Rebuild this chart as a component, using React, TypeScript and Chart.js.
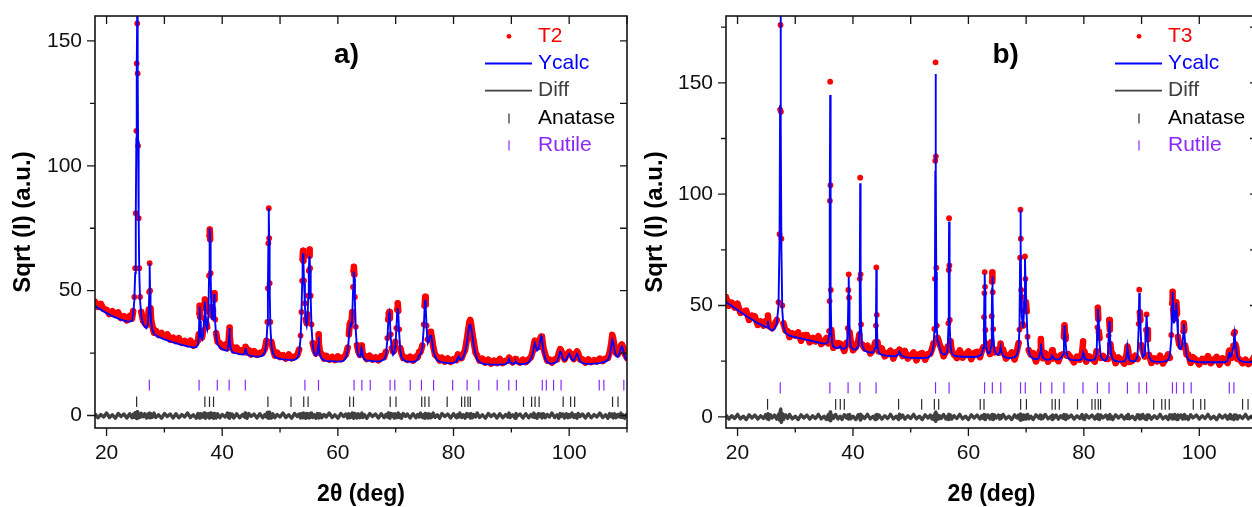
import { useEffect, useRef } from 'react';
import { Chart, registerables } from 'chart.js';

Chart.register(...registerables);

const FONT = "'Liberation Sans', Arial, Helvetica, sans-serif";

// ---- tick positions ----
const xMajorTicks = [20, 40, 60, 80, 100];
const xMinorTicks = [30, 50, 70, 90, 110];
const yMajorTicks = [0, 50, 100, 150];
const yMinorTicksA = [25, 75, 125];
const yMinorTicksB = [25, 75, 125, 175];

// ---- reflection markers (2θ) ----
const anataseTicks = [25.2, 37.0, 37.8, 38.5, 47.9, 51.9, 54.1, 54.85, 62.05, 62.7, 69.05, 70.05, 74.5, 75.05, 75.75, 78.9, 81.4, 81.95, 82.5, 82.9, 92.1, 93.5, 94.1, 94.8, 98.96, 100.25, 100.95, 107.5, 108.45];
const rutileTicks = [27.4, 36.0, 39.15, 41.2, 44.0, 54.3, 56.65, 62.8, 64.15, 65.6, 69.03, 69.85, 72.52, 74.45, 76.55, 79.85, 82.35, 84.37, 87.55, 89.56, 90.87, 95.35, 96.05, 97.3, 98.6, 105.2, 106.0, 109.45];

// ---- profiles: [2θ, observed, calculated, difference] ----
type Row = [number, number, number, number];

const t2Rows: Row[] = [
  [18.0, 45.6, 43.8, 0.7], [18.5, 43.5, 43.1, -0.9], [19.0, 44.7, 42.4, 0.4], [19.5, 42.6, 41.7, -0.6],
  [20.0, 42.4, 41.0, 1.0], [20.5, 40.6, 40.4, -0.8], [21.0, 41.8, 39.8, 0.3], [21.5, 40.4, 39.3, -1.1],
  [22.0, 41.3, 38.8, 0.8], [22.5, 39.0, 38.4, -0.4], [23.0, 39.8, 38.0, 0.6], [23.5, 38.1, 37.7, -1.0],
  [24.0, 39.9, 37.6, 0.7], [24.4, 38.8, 37.9, -0.9], [24.6, 41.8, 40.5, 0.5], [24.8, 47.5, 46.0, -0.7],
  [24.95, 59, 57, 1.1], [25.05, 81, 79, -0.8], [25.15, 114, 111, 0.9], [25.22, 141, 140, -1.2],
  [25.3, 157, 162, 1.5], [25.38, 137, 138, -1.0], [25.45, 108, 110, 0.8], [25.55, 79, 80, -0.9],
  [25.65, 59, 58, 0.6], [25.8, 47.5, 46, -0.7], [26.0, 41.5, 40, 0.9], [26.3, 38.0, 36.8, -0.5],
  [26.6, 37.0, 35.5, 0.7], [26.9, 36.2, 35.0, -1.0], [27.15, 38.5, 37.0, 0.5], [27.3, 42.5, 41.5, -0.8],
  [27.37, 49.5, 48.0, 0.9], [27.45, 61.0, 61.0, -0.6], [27.53, 50.0, 49.0, 0.8], [27.6, 43.0, 42.0, -0.9],
  [27.7, 38.5, 37.5, 0.4], [27.9, 36.0, 34.5, -0.7], [28.2, 33.2, 32.8, 1.0], [28.5, 34.0, 32.1, -0.8],
  [29.0, 32.2, 31.5, 0.3], [29.5, 33.1, 31.0, -1.1], [30.0, 31.6, 30.5, 0.8], [30.5, 32.5, 30.1, -0.4],
  [31.0, 30.4, 29.7, 0.6], [31.5, 31.2, 29.3, -1.0], [32.0, 29.8, 29.0, 0.7], [32.5, 31.0, 28.6, -0.9],
  [33.0, 29.1, 28.3, 0.4], [33.5, 29.9, 28.0, -0.6], [34.0, 28.6, 27.7, 1.0], [34.5, 30.0, 27.5, -0.8],
  [35.0, 28.0, 27.3, 0.3], [35.5, 28.9, 27.4, -1.1], [35.8, 30.0, 28.5, 0.8], [35.95, 32.5, 31.5, -0.4],
  [36.05, 41.0, 40.0, 0.6], [36.1, 44.0, 43.6, -1.0], [36.17, 39.5, 38.0, 0.7], [36.3, 33.0, 31.5, -0.9],
  [36.5, 31.2, 30.5, 0.4], [36.7, 34.0, 32.5, -0.6], [36.85, 39.0, 38.0, 1.0], [36.95, 45.0, 44.0, -0.8],
  [37.0, 46.5, 45.6, 0.3], [37.08, 43.0, 42.0, -1.1], [37.2, 37.5, 36.0, 0.8], [37.4, 35.5, 34.5, -0.4],
  [37.6, 41.5, 40.0, 0.6], [37.72, 56.0, 55.0, -1.0], [37.8, 72.0, 71.0, 0.9], [37.85, 74.5, 75.0, -0.9],
  [37.92, 70.5, 70.0, 0.5], [38.0, 57.0, 56.0, -0.6], [38.12, 43.5, 42.0, 1.0], [38.25, 40.0, 38.5, -0.8],
  [38.4, 42.5, 41.0, 0.3], [38.52, 47.5, 46.0, -1.1], [38.6, 49.0, 48.7, 0.8], [38.68, 46.5, 45.5, -0.4],
  [38.8, 38.5, 37.0, 0.6], [38.95, 33.0, 31.5, -1.0], [39.2, 29.5, 28.5, 0.7], [39.6, 29.0, 27.2, -0.9],
  [40.0, 27.4, 26.6, 0.4], [40.5, 28.4, 26.1, -0.6], [40.9, 27.0, 26.0, 1.0], [41.1, 29.6, 28.5, -0.8],
  [41.2, 33.5, 32.5, 0.3], [41.25, 35.2, 35.0, -1.1], [41.32, 32.0, 31.0, 0.8], [41.45, 28.4, 27.2, -0.4],
  [41.7, 27.6, 25.6, 0.6], [42.0, 26.0, 25.2, -1.0], [42.5, 27.2, 24.9, 0.7], [43.0, 25.5, 24.6, -0.9],
  [43.5, 26.3, 24.4, 0.4], [43.85, 25.4, 24.7, -0.6], [43.97, 26.9, 25.8, 1.0], [44.05, 27.5, 27.0, -0.8],
  [44.13, 27.0, 25.9, 0.3], [44.3, 25.3, 24.5, -1.1], [44.6, 26.2, 24.1, 0.8], [45.0, 24.5, 23.9, -0.4],
  [45.5, 25.8, 23.7, 0.6], [46.0, 24.3, 23.6, -1.0], [46.5, 25.1, 23.6, 0.7], [47.0, 25.0, 24.0, -0.9],
  [47.4, 26.8, 25.5, 0.4], [47.65, 30.0, 29.0, -0.6], [47.8, 37.5, 36.0, 1.2], [47.9, 51.0, 50.0, -0.8],
  [47.98, 69.0, 68.0, 0.9], [48.05, 83.0, 83.0, -1.1], [48.12, 71.0, 70.0, 1.3], [48.2, 53.0, 52.0, -0.4],
  [48.32, 37.5, 36.0, 0.6], [48.5, 29.5, 28.5, -1.0], [48.75, 26.8, 25.2, 0.7], [49.1, 24.0, 23.5, -0.9],
  [49.5, 25.2, 23.0, 0.4], [50.0, 23.4, 22.7, -0.6], [50.5, 24.2, 22.5, 1.0], [51.0, 22.8, 22.4, -0.8],
  [51.5, 24.5, 22.3, 0.3], [52.0, 22.9, 22.2, -1.1], [52.5, 23.6, 22.3, 0.8], [53.0, 24.2, 23.0, -0.4],
  [53.3, 26.4, 25.0, 0.6], [53.55, 32.0, 31.0, -1.0], [53.7, 41.5, 40.0, 0.7], [53.82, 54.0, 53.0, -0.9],
  [53.9, 62.5, 61.0, 0.4], [53.97, 66.0, 65.0, -0.6], [54.05, 62.0, 61.0, 1.0], [54.15, 54.0, 53.0, -0.8],
  [54.3, 45.0, 44.0, 0.3], [54.45, 38.5, 37.5, -1.1], [54.6, 37.0, 36.0, 0.8], [54.75, 40.5, 39.0, -0.4],
  [54.87, 48.0, 47.0, 0.6], [54.97, 58.0, 57.0, -1.0], [55.05, 64.0, 63.0, 0.7], [55.12, 66.5, 64.0, -0.9],
  [55.2, 59.0, 58.0, 0.4], [55.3, 48.0, 47.0, -0.6], [55.45, 36.5, 35.0, 1.0], [55.65, 29.0, 28.0, -0.8],
  [55.9, 26.5, 25.0, 0.3], [56.2, 24.8, 24.0, -1.1], [56.45, 26.0, 24.8, 0.8], [56.57, 29.0, 28.0, -0.4],
  [56.65, 32.5, 31.5, 0.6], [56.73, 29.5, 28.0, -1.0], [56.9, 25.4, 24.2, 0.7], [57.2, 24.6, 22.8, -0.9],
  [57.6, 22.8, 22.2, 0.4], [58.0, 23.9, 21.9, -0.6], [58.5, 22.4, 21.8, 1.0], [59.0, 23.5, 21.7, -0.8],
  [59.5, 22.2, 21.7, 0.3], [60.0, 23.7, 21.6, -1.1], [60.5, 22.5, 21.7, 0.8], [61.0, 23.4, 22.0, -0.4],
  [61.4, 24.4, 23.2, 0.6], [61.7, 27.2, 26.0, -1.0], [61.9, 32.5, 31.0, 0.7], [62.05, 36.5, 35.0, -0.9],
  [62.2, 37.5, 36.5, 0.4], [62.35, 37.5, 36.0, -0.6], [62.5, 41.5, 40.0, 1.0], [62.62, 51.5, 50.0, -0.8],
  [62.7, 58.0, 56.0, 0.3], [62.77, 59.6, 57.6, -1.1], [62.85, 56.5, 55.0, 0.8], [62.95, 47.5, 46.0, -0.4],
  [63.1, 35.5, 34.0, 0.6], [63.3, 28.2, 27.0, -1.0], [63.55, 25.6, 24.0, 0.7], [63.8, 24.3, 23.5, -0.9],
  [63.95, 25.8, 24.5, 0.4], [64.08, 28.0, 27.0, -0.6], [64.15, 27.5, 26.5, 1.0], [64.3, 24.6, 23.8, -0.8],
  [64.6, 24.0, 22.5, 0.3], [65.0, 22.6, 22.0, -1.1], [65.5, 24.0, 22.0, 0.8], [66.0, 22.4, 21.8, -0.4],
  [66.5, 23.3, 21.7, 0.6], [67.0, 22.1, 21.7, -1.0], [67.5, 23.8, 21.9, 0.7], [68.0, 23.4, 22.5, -0.9],
  [68.3, 25.5, 24.0, 0.4], [68.55, 31.0, 30.0, -0.6], [68.7, 38.5, 37.0, 1.0], [68.8, 41.0, 40.0, -0.8],
  [68.9, 41.5, 41.0, 0.3], [69.0, 39.0, 38.0, -1.1], [69.15, 32.5, 31.0, 0.8], [69.35, 27.0, 26.0, -0.4],
  [69.55, 25.6, 24.3, 0.6], [69.75, 26.0, 25.0, -1.0], [69.95, 29.5, 28.0, 0.7], [70.1, 35.0, 34.0, -0.9],
  [70.25, 42.5, 41.0, 0.4], [70.35, 45.0, 43.0, -0.6], [70.45, 42.0, 41.0, 1.0], [70.6, 34.5, 33.0, -0.8],
  [70.8, 27.0, 26.0, 0.3], [71.0, 25.0, 23.5, -1.1], [71.3, 23.0, 22.3, 0.8], [71.7, 23.2, 21.8, -0.4],
  [72.0, 22.3, 21.6, 0.6], [72.5, 23.6, 21.6, -1.0], [73.0, 22.0, 21.5, 0.7], [73.5, 23.6, 21.8, -0.9],
  [73.8, 23.3, 22.5, 0.4], [74.05, 25.5, 24.0, -0.6], [74.3, 25.5, 24.5, 1.0], [74.6, 28.0, 27.0, -0.8],
  [74.85, 36.5, 35.0, 0.3], [75.0, 44.0, 43.0, -1.1], [75.1, 47.6, 46.3, 0.8], [75.2, 44.5, 43.0, -0.4],
  [75.35, 36.0, 35.0, 0.6], [75.55, 30.5, 29.0, -1.0], [75.75, 31.0, 30.0, 0.7], [75.95, 33.5, 32.0, -0.9],
  [76.1, 33.0, 32.3, 0.4], [76.25, 31.5, 30.5, -0.6], [76.5, 27.5, 26.0, 1.0], [76.8, 24.4, 23.5, -0.8],
  [77.2, 23.5, 22.2, 0.3], [77.6, 22.0, 21.6, -1.1], [78.0, 23.2, 21.3, 0.8], [78.5, 21.6, 21.2, -0.4],
  [79.0, 22.9, 21.0, 0.6], [79.5, 21.5, 21.0, -1.0], [80.0, 22.6, 21.1, 0.7], [80.5, 22.2, 21.6, -0.9],
  [80.75, 24.5, 23.2, 0.4], [80.9, 24.3, 23.6, -0.6], [81.1, 24.0, 22.5, 1.0], [81.4, 23.0, 22.4, -0.8],
  [81.7, 24.8, 23.5, 0.3], [82.0, 26.2, 25.5, -1.1], [82.3, 30.5, 29.0, 0.8], [82.55, 34.5, 33.5, -0.4],
  [82.75, 37.5, 36.0, 0.6], [82.9, 38.3, 36.3, -1.0], [83.05, 36.5, 35.0, 0.7], [83.25, 33.0, 32.0, -0.9],
  [83.5, 29.5, 28.0, 0.4], [83.8, 25.2, 24.5, -0.6], [84.1, 24.0, 22.5, 1.0], [84.5, 22.0, 21.4, -0.8],
  [85.0, 22.8, 20.8, 0.3], [85.5, 21.2, 20.6, -1.1], [86.0, 22.4, 20.5, 0.8], [86.5, 20.8, 20.4, -0.4],
  [87.0, 22.0, 20.4, 0.6], [87.5, 21.0, 20.4, -1.0], [88.0, 22.7, 20.4, 0.7], [88.5, 21.0, 20.5, -0.9],
  [89.0, 21.9, 20.6, 0.4], [89.4, 22.0, 21.2, -0.6], [89.6, 23.2, 22.6, 1.0], [89.8, 22.5, 21.3, -0.8],
  [90.2, 21.3, 20.7, 0.3], [90.65, 22.6, 21.0, -1.1], [90.8, 22.3, 21.6, 0.8], [90.95, 21.8, 21.0, -0.4],
  [91.5, 21.2, 20.6, 0.6], [92.0, 22.4, 20.6, -1.0], [92.5, 21.4, 20.8, 0.7], [93.0, 22.5, 21.3, -0.9],
  [93.4, 23.4, 22.8, 0.4], [93.7, 25.8, 24.5, -0.6], [93.9, 28.5, 27.5, 1.0], [94.05, 30.0, 29.0, -0.8],
  [94.2, 29.0, 28.0, 0.3], [94.45, 27.5, 26.0, -1.1], [94.7, 27.5, 26.5, 0.8], [94.95, 30.5, 29.5, -0.4],
  [95.15, 31.6, 31.6, 0.6], [95.3, 31.5, 30.5, -1.0], [95.55, 27.0, 26.0, 0.7], [95.85, 24.5, 22.8, -0.9],
  [96.2, 22.0, 21.4, 0.4], [96.6, 22.4, 20.9, -0.6], [97.0, 21.2, 20.8, 1.0], [97.5, 22.5, 21.0, -0.8],
  [97.9, 22.4, 21.8, 0.3], [98.2, 25.0, 23.5, -1.1], [98.45, 26.6, 25.6, 0.8], [98.6, 26.2, 25.2, -0.4],
  [98.9, 24.4, 22.8, 0.6], [99.2, 22.5, 22.0, -1.0], [99.5, 24.0, 22.4, 0.7], [99.8, 25.0, 24.0, -0.9],
  [100.0, 25.5, 24.7, 0.4], [100.2, 25.0, 24.0, -0.6], [100.5, 23.8, 22.3, 1.0], [100.8, 22.6, 22.0, -0.8],
  [101.1, 24.7, 23.5, 0.3], [101.35, 25.7, 24.7, -1.1], [101.55, 25.0, 23.8, 0.8], [101.9, 22.4, 21.6, -0.4],
  [102.3, 22.5, 21.0, 0.6], [102.8, 21.2, 20.8, -1.0], [103.3, 22.5, 20.7, 0.7], [103.8, 21.4, 20.7, -0.9],
  [104.3, 22.2, 20.8, 0.4], [104.8, 21.6, 20.9, -0.6], [105.3, 22.8, 21.0, 1.0], [105.8, 21.8, 21.3, -0.8],
  [106.3, 22.8, 21.6, 0.3], [106.7, 23.0, 22.3, -1.1], [107.0, 25.2, 24.0, 0.8], [107.25, 28.5, 27.5, -0.4],
  [107.45, 32.3, 30.3, 0.6], [107.6, 31.0, 29.5, -1.0], [107.85, 27.5, 26.0, 0.7], [108.1, 25.0, 24.0, -0.9],
  [108.4, 24.5, 23.5, 0.4], [108.7, 26.0, 25.0, -0.6], [108.95, 28.0, 27.2, 1.0], [109.1, 28.5, 27.6, -0.8],
  [109.3, 27.5, 26.5, 0.3], [109.6, 24.8, 23.5, -1.1], [110.0, 23.0, 22.0, 0.8],
];

const t3Rows: Row[] = [
  [18.0, 53.8, 51.6, 0.8], [18.5, 49.9, 50.7, -1.0], [19.0, 51.3, 49.8, 0.5], [19.5, 49.1, 48.9, -0.7],
  [20.0, 50.8, 48.0, 1.1], [20.5, 46.7, 47.1, -0.9], [21.0, 47.2, 46.2, 0.3], [21.5, 47.7, 45.3, -1.2],
  [22.0, 43.5, 44.5, 0.9], [22.5, 45.5, 43.7, -0.5], [23.0, 45.1, 42.9, 0.8], [23.5, 41.3, 42.1, -1.0],
  [24.0, 42.9, 41.4, 0.5], [24.5, 41.0, 40.8, -0.7], [24.9, 43.1, 40.3, 1.1], [25.15, 41.5, 40.5, -0.9],
  [25.27, 45.5, 43.0, 1.4], [25.4, 40.8, 40.0, -1.2], [25.7, 40.4, 39.2, 0.9], [26.0, 39.8, 38.8, -0.5],
  [26.4, 41.5, 39.5, 0.8], [26.8, 43.5, 42.0, -1.0], [27.1, 51.5, 50.0, 1.2], [27.28, 82.0, 80.0, -1.5],
  [27.37, 138.0, 140.0, 2.5], [27.45, 176.0, 190.0, -2.0], [27.52, 137.0, 130.0, 3.5], [27.6, 80.0, 75.0, -2.5],
  [27.75, 50.0, 48.0, 1.5], [27.95, 42.0, 40.5, -1.2], [28.3, 38.8, 37.8, 0.9], [28.7, 38.4, 37.0, -0.7],
  [29.0, 35.8, 36.5, 1.1], [29.5, 37.5, 36.1, -0.9], [30.0, 36.5, 35.8, 0.3], [30.5, 37.9, 35.5, -1.2],
  [31.0, 34.2, 35.2, 0.9], [31.5, 36.7, 34.9, -0.5], [32.0, 36.8, 34.6, 0.8], [32.5, 33.5, 34.3, -1.0],
  [33.0, 35.5, 34.0, 0.5], [33.5, 33.9, 33.7, -0.7], [34.0, 36.2, 33.4, 1.1], [34.5, 32.7, 33.1, -0.9],
  [35.0, 33.9, 32.9, 0.3], [35.4, 35.4, 33.0, -1.2], [35.7, 33.0, 33.8, 0.9], [35.85, 38.5, 37.0, -0.5],
  [35.95, 52.0, 50.0, 1.2], [36.0, 97.0, 95.0, -1.5], [36.05, 150.5, 144.5, 2.2], [36.1, 104.0, 100.0, -1.8],
  [36.15, 57.0, 55.0, 1.4], [36.25, 39.0, 38.0, -1.0], [36.4, 34.5, 33.0, 0.8], [36.6, 31.0, 31.5, -0.7],
  [37.0, 32.5, 31.0, 1.1], [37.4, 33.2, 30.8, -0.9], [37.8, 32.8, 31.8, 0.3], [38.1, 31.6, 30.6, -1.2],
  [38.5, 29.6, 30.6, 0.9], [38.9, 33.3, 31.5, -0.5], [39.1, 39.8, 38.0, 0.8], [39.2, 57.0, 55.0, -1.0],
  [39.26, 64.0, 62.8, 0.9], [39.32, 53.5, 52.0, -0.7], [39.4, 38.0, 37.0, 1.1], [39.6, 34.3, 31.5, -0.9],
  [40.0, 29.9, 30.3, 0.3], [40.5, 31.3, 30.3, -1.2], [40.9, 33.9, 31.5, 0.9], [41.1, 37.0, 38.0, -0.5],
  [41.18, 62.0, 60.0, 1.0], [41.25, 107.4, 104.9, -1.4], [41.32, 64.0, 62.0, 1.2], [41.4, 41.5, 40.0, -1.0],
  [41.6, 32.5, 32.0, 0.5], [42.0, 30.8, 29.8, -0.7], [42.5, 32.0, 29.2, 1.1], [43.0, 28.5, 28.9, -0.9],
  [43.5, 30.0, 29.0, 0.3], [43.85, 33.4, 31.0, -1.2], [43.98, 41.0, 42.0, 0.9], [44.05, 67.1, 66.0, -1.0],
  [44.12, 45.8, 44.0, 1.1], [44.25, 33.5, 32.0, -0.7], [44.5, 29.4, 28.6, 0.8], [45.0, 30.7, 27.9, -1.0],
  [45.5, 27.2, 27.6, 0.5], [46.0, 28.4, 27.4, -0.7], [46.5, 29.7, 27.3, 1.1], [47.0, 26.2, 27.2, -0.9],
  [47.5, 29.1, 27.3, 0.3], [47.9, 29.0, 28.2, -1.2], [48.05, 30.2, 29.2, 1.2], [48.25, 29.6, 28.0, -0.5],
  [48.6, 27.3, 27.1, 0.8], [49.0, 29.6, 26.8, -1.0], [49.5, 26.2, 26.6, 0.5], [50.0, 27.5, 26.5, -0.7],
  [50.5, 28.9, 26.5, 1.1], [51.0, 25.4, 26.4, -0.9], [51.5, 28.2, 26.4, 0.3], [52.0, 28.6, 26.4, -1.2],
  [52.5, 25.7, 26.5, 0.9], [53.0, 28.2, 26.7, -0.5], [53.4, 28.4, 27.4, 0.8], [53.7, 30.5, 29.0, -1.0],
  [53.95, 33.0, 32.0, 0.5], [54.1, 39.5, 38.0, -1.2], [54.2, 62.0, 60.0, 1.5], [54.26, 115.0, 110.0, -1.8],
  [54.31, 159.2, 154.0, 2.2], [54.37, 117.0, 112.0, -2.0], [54.43, 67.0, 65.0, 1.4], [54.52, 41.0, 40.0, -0.9],
  [54.65, 35.5, 34.0, 0.8], [54.8, 34.5, 33.5, -1.0], [55.0, 32.5, 31.0, 0.5], [55.3, 30.8, 28.8, -0.7],
  [55.7, 27.2, 28.0, 1.1], [56.1, 29.2, 28.2, -0.9], [56.4, 31.5, 30.0, 0.3], [56.53, 42.0, 40.0, -1.2],
  [56.6, 66.0, 65.0, 1.2], [56.65, 89.2, 87.7, -1.0], [56.7, 68.0, 66.0, 0.8], [56.78, 43.5, 42.0, -0.5],
  [56.9, 34.0, 32.0, 0.8], [57.1, 29.8, 28.8, -1.0], [57.5, 28.0, 27.5, 0.5], [58.0, 26.4, 27.2, -0.7],
  [58.5, 29.9, 27.1, 1.1], [59.0, 26.6, 27.0, -0.9], [59.5, 28.0, 27.0, 0.3], [60.0, 29.4, 27.0, -1.2],
  [60.5, 25.9, 26.9, 0.9], [61.0, 28.7, 26.9, -0.5], [61.5, 29.2, 27.0, 0.8], [62.0, 26.8, 27.6, -1.0],
  [62.3, 29.5, 28.0, 0.5], [62.55, 31.2, 31.0, -0.7], [62.7, 44.8, 42.0, 1.1], [62.77, 55.6, 56.0, -0.9],
  [62.82, 65.0, 64.3, 0.3], [62.88, 58.4, 56.0, -1.2], [62.95, 39.0, 40.0, 0.9], [63.1, 32.8, 31.0, -0.5],
  [63.4, 30.7, 28.5, 0.8], [63.75, 28.2, 29.0, -1.0], [63.95, 33.5, 32.0, 0.5], [64.05, 45.2, 45.0, -0.7],
  [64.1, 60.8, 58.0, 1.1], [64.15, 64.9, 63.0, -0.9], [64.21, 56.0, 55.0, 0.3], [64.3, 39.4, 37.0, -1.2],
  [64.5, 29.0, 30.0, 0.9], [64.8, 30.0, 28.2, -0.5], [65.2, 28.8, 28.0, 0.8], [65.45, 29.0, 29.5, -1.0],
  [65.58, 32.9, 31.4, 0.5], [65.7, 29.5, 29.3, -0.7], [66.0, 30.3, 27.5, 1.1], [66.5, 26.2, 26.6, -0.9],
  [67.0, 27.4, 26.4, 0.3], [67.5, 28.9, 26.5, -1.2], [68.0, 25.8, 26.8, 0.9], [68.4, 29.6, 27.8, -0.5],
  [68.7, 33.2, 31.0, 0.8], [68.85, 39.2, 40.0, -1.0], [68.95, 71.5, 70.0, 0.5], [69.02, 93.0, 93.0, -1.5],
  [69.08, 80.0, 78.0, 1.3], [69.15, 57.0, 56.0, -0.9], [69.25, 47.8, 45.0, 0.3], [69.4, 41.6, 42.0, -1.2],
  [69.5, 41.0, 40.0, 0.9], [69.7, 53.8, 52.0, -0.5], [69.8, 72.0, 71.0, 0.8], [69.88, 62.0, 62.0, -1.0],
  [69.97, 51.5, 50.0, 0.5], [70.1, 47.4, 45.0, -0.7], [70.25, 36.0, 35.0, 1.1], [70.45, 30.0, 29.5, -0.9],
  [70.8, 28.0, 27.0, 0.3], [71.2, 28.6, 26.2, -1.2], [71.7, 24.9, 25.9, 0.9], [72.2, 28.1, 26.3, -0.5],
  [72.45, 30.0, 29.0, 0.8], [72.55, 35.0, 32.9, -1.0], [72.65, 30.0, 29.5, 0.5], [72.9, 26.3, 26.5, -0.7],
  [73.3, 28.6, 25.8, 1.1], [73.8, 24.8, 25.6, -0.9], [74.3, 27.0, 26.0, 0.3], [74.5, 29.9, 27.5, -1.2],
  [74.6, 26.2, 27.2, 0.9], [74.85, 27.8, 26.0, -0.5], [75.2, 26.6, 25.8, 0.8], [75.6, 25.0, 25.8, -1.0],
  [76.0, 27.7, 26.2, 0.5], [76.4, 28.2, 28.0, -0.7], [76.55, 36.0, 33.0, 1.1], [76.65, 41.1, 41.1, -0.9],
  [76.75, 36.5, 36.0, 0.3], [76.85, 35.0, 33.0, -1.2], [77.0, 27.5, 28.5, 0.9], [77.3, 28.1, 26.3, -0.5],
  [77.8, 26.4, 25.6, 0.8], [78.3, 24.5, 25.5, -1.0], [78.8, 27.0, 25.5, 0.5], [79.3, 25.7, 25.5, -0.7],
  [79.7, 29.0, 26.2, 1.1], [79.88, 33.9, 28.7, -0.9], [80.0, 28.5, 27.5, 0.3], [80.1, 29.4, 27.0, -1.2],
  [80.4, 24.8, 25.8, 0.9], [80.9, 27.2, 25.4, -0.5], [81.4, 26.2, 25.4, 0.8], [81.9, 24.8, 25.8, -1.0],
  [82.2, 29.5, 28.0, 0.5], [82.35, 40.2, 40.0, -0.7], [82.42, 49.0, 48.6, 1.1], [82.5, 44.0, 44.0, -0.9],
  [82.6, 38.3, 38.0, 0.3], [82.72, 35.4, 33.0, -1.2], [82.9, 26.5, 27.5, 0.9], [83.3, 27.4, 25.6, -0.5],
  [83.8, 26.1, 25.3, 0.8], [84.15, 26.0, 27.0, -1.0], [84.3, 36.5, 35.0, 0.5], [84.4, 43.5, 42.9, -0.7],
  [84.5, 39.1, 38.0, 1.1], [84.6, 32.6, 33.0, -0.9], [84.75, 29.0, 28.0, 0.3], [85.0, 28.2, 25.8, -1.2],
  [85.5, 24.1, 25.1, 0.9], [86.0, 26.7, 24.9, -0.5], [86.5, 25.6, 24.8, 0.8], [87.0, 23.9, 24.9, -1.0],
  [87.4, 28.0, 26.5, 0.5], [87.55, 31.6, 31.4, -0.7], [87.7, 29.6, 28.5, 1.1], [87.9, 24.6, 25.5, -0.9],
  [88.4, 25.2, 24.9, 0.3], [88.9, 27.5, 25.1, -1.2], [89.3, 26.0, 27.0, 0.9], [89.5, 41.8, 40.0, -0.5],
  [89.6, 57.1, 55.6, 0.8], [89.7, 47.0, 48.0, -1.0], [89.8, 43.5, 42.0, 0.5], [89.95, 32.2, 32.0, -0.7],
  [90.2, 29.8, 27.0, 1.1], [90.55, 27.1, 28.0, -0.9], [90.75, 39.0, 38.0, 0.3], [90.87, 46.0, 45.6, -1.2],
  [90.97, 39.0, 40.0, 0.9], [91.1, 34.8, 33.0, -0.5], [91.3, 27.8, 27.0, 0.8], [91.7, 24.2, 25.2, -1.0],
  [92.2, 26.3, 24.8, 0.5], [92.7, 24.9, 24.7, -0.7], [93.2, 27.5, 24.7, 1.1], [93.7, 24.0, 24.8, -0.9],
  [94.2, 26.0, 25.0, 0.3], [94.6, 28.0, 25.6, -1.2], [94.9, 26.5, 27.5, 0.9], [95.15, 36.8, 35.0, -0.5],
  [95.3, 51.0, 50.0, 0.8], [95.38, 56.2, 56.2, -1.0], [95.47, 48.5, 48.0, 0.5], [95.6, 44.0, 42.0, -0.7],
  [95.75, 46.8, 44.0, 1.1], [95.9, 45.0, 46.0, -0.9], [96.02, 51.5, 51.1, 0.3], [96.15, 46.4, 44.0, -1.2],
  [96.3, 36.0, 37.0, 0.9], [96.5, 32.8, 31.0, -0.5], [96.8, 31.5, 30.5, 0.8], [97.1, 32.0, 33.0, -1.0],
  [97.25, 38.5, 38.0, 0.5], [97.32, 42.0, 41.8, -0.7], [97.4, 39.0, 38.0, 1.1], [97.55, 32.0, 33.0, -0.9],
  [97.8, 28.0, 27.5, 0.3], [98.1, 28.0, 25.6, -1.2], [98.5, 24.2, 25.2, 0.9], [98.9, 26.8, 25.0, -0.5],
  [99.5, 25.5, 24.7, 0.8], [100.0, 23.6, 24.6, -1.0], [100.5, 26.0, 24.5, 0.5], [101.0, 24.7, 24.5, -0.7],
  [101.5, 27.3, 24.5, 1.1], [102.0, 24.1, 24.5, -0.9], [102.5, 25.5, 24.5, 0.3], [103.0, 26.9, 24.5, -1.2],
  [103.5, 23.5, 24.5, 0.9], [104.0, 26.3, 24.5, -0.5], [104.5, 25.4, 24.6, 0.8], [104.9, 24.2, 25.2, -1.0],
  [105.15, 29.5, 28.0, 0.5], [105.25, 29.8, 29.0, -0.7], [105.38, 28.1, 27.0, 1.1], [105.6, 26.5, 27.5, -0.9],
  [105.85, 32.0, 31.0, 0.3], [106.0, 37.4, 35.0, -1.2], [106.12, 38.0, 37.4, 0.9], [106.25, 32.5, 33.0, -0.5],
  [106.4, 31.3, 30.5, 0.8], [106.6, 26.0, 27.0, -1.0], [107.0, 25.8, 25.3, 0.5], [107.5, 24.1, 24.8, -0.7],
  [108.0, 25.7, 24.6, 1.1], [108.5, 23.7, 24.6, -0.9], [109.0, 24.8, 24.5, 0.3], [109.5, 26.9, 24.5, -1.2],
  [110.0, 23.5, 24.5, 0.9],
];

// ---- styling ----
const COLORS = {
  obs: '#ff0000',
  calc: '#0000ff',
  diff: '#404040',
  anatase: '#2a2a2a',
  anataseText: '#000000',
  rutile: '#8c28ff',
  axis: '#141414',
};

interface Panel {
  rows: Row[];
  sample: string;
  yMax: number;
  yMinor: number[];
  anataseLevel: number;
  rutileLevel: number;
  anataseR: number;
  rutileR: number;
  tag: string;
  tagX: number;
  tagY: number;
  axisW: number;
  padR: number;
  yTitlePad: number;
}

const panelA: Panel = {
  rows: t2Rows, sample: 'T2', yMax: 160, yMinor: yMinorTicksA,
  anataseLevel: 5.5, rutileLevel: 12.15, anataseR: 5.2, rutileR: 5.4,
  tag: 'a)', tagX: 61.5, tagY: 144.3, axisW: 95, padR: 13, yTitlePad: 9,
};
const panelB: Panel = {
  rows: t3Rows, sample: 'T3', yMax: 180, yMinor: yMinorTicksB,
  anataseLevel: 5.65, rutileLevel: 13.0, anataseR: 5.35, rutileR: 5.7,
  tag: 'b)', tagX: 66.45, tagY: 162.5, axisW: 86, padR: 8, yTitlePad: 1,
};

function decorPlugin(p: Panel) {
  return {
    id: 'decor',
    afterDatasetsDraw(chart: any) {
      const { ctx, chartArea: a, scales } = chart;
      const xs = scales.x;
      const ys = scales.y;
      ctx.save();
      // frame
      ctx.strokeStyle = COLORS.axis;
      ctx.lineWidth = 1.6;
      ctx.strokeRect(a.left, a.top, a.right - a.left, a.bottom - a.top);
      // ticks
      ctx.lineWidth = 1.3;
      ctx.beginPath();
      const xt = (v: number, outLen: number, inLen: number) => {
        const x = xs.getPixelForValue(v);
        if (x < a.left - 0.5 || x > a.right + 0.5) return;
        ctx.moveTo(x, a.bottom);
        ctx.lineTo(x, a.bottom + outLen);
        ctx.moveTo(x, a.top);
        ctx.lineTo(x, a.top + inLen);
      };
      const yt = (v: number, outLen: number, inLen: number) => {
        const y = ys.getPixelForValue(v);
        if (y < a.top - 0.5 || y > a.bottom + 0.5) return;
        ctx.moveTo(a.left, y);
        ctx.lineTo(a.left - outLen, y);
        ctx.moveTo(a.right, y);
        ctx.lineTo(a.right - inLen, y);
      };
      xMajorTicks.forEach((v) => xt(v, 8, 8));
      xMinorTicks.forEach((v) => xt(v, 4.5, 8));
      yMajorTicks.forEach((v) => yt(v, 8, 7));
      p.yMinor.forEach((v) => yt(v, 5, 7));
      ctx.stroke();

      // legend (inside plot, top right)
      const ds = chart.data.datasets;
      const order = [1, 0, 2, 3, 4];
      const textColors = [COLORS.obs, COLORS.calc, COLORS.diff, COLORS.anataseText, COLORS.rutile];
      ctx.font = `21px ${FONT}`;
      ctx.textBaseline = 'middle';
      ctx.textAlign = 'left';
      order.forEach((di, i) => {
        const y = a.top + 20.3 + 27.2 * i;
        const sx = a.right - 118;
        if (i === 0) {
          ctx.fillStyle = COLORS.obs;
          ctx.beginPath();
          ctx.arc(sx, y, 2.4, 0, Math.PI * 2);
          ctx.fill();
        } else if (i === 1 || i === 2) {
          ctx.strokeStyle = i === 1 ? COLORS.calc : COLORS.diff;
          ctx.lineWidth = 1.8;
          ctx.beginPath();
          ctx.moveTo(a.right - 142, y);
          ctx.lineTo(a.right - 95, y);
          ctx.stroke();
        } else {
          ctx.strokeStyle = i === 3 ? COLORS.anatase : COLORS.rutile;
          ctx.lineWidth = 1.2;
          ctx.beginPath();
          ctx.moveTo(sx, y - 4.5);
          ctx.lineTo(sx, y + 5.5);
          ctx.stroke();
        }
        ctx.fillStyle = textColors[i];
        ctx.fillText(ds[di].label, a.right - 89, y);
      });

      // panel tag
      ctx.font = `bold 28px ${FONT}`;
      ctx.textAlign = 'center';
      ctx.fillStyle = '#000';
      ctx.fillText(p.tag, xs.getPixelForValue(p.tagX), ys.getPixelForValue(p.tagY));
      ctx.restore();
    },
  };
}

// the observed band: the red trace is only stroked where it runs flat (background),
// so the peaks keep the look of separate dots along the blue fit
const obsSegmentColor = (c: any) => (Math.abs(c.p1.y - c.p0.y) > 12 ? 'rgba(255,0,0,0)' : COLORS.obs);

function buildConfig(p: Panel): any {
  const calc = p.rows.map((r) => ({ x: r[0], y: r[2] }));
  const obs = p.rows.map((r) => ({ x: r[0], y: r[1] }));
  const diff = p.rows.map((r) => ({ x: r[0], y: r[3] }));
  const ana = anataseTicks.map((x) => ({ x, y: p.anataseLevel }));
  const rut = rutileTicks.map((x) => ({ x, y: p.rutileLevel }));
  const tickFont = { size: 21, family: FONT };
  return {
    type: 'scatter',
    data: {
      datasets: [
        { label: 'Ycalc', data: calc, showLine: true, borderColor: COLORS.calc, borderWidth: 1.9, pointRadius: 0, tension: 0 },
        {
          label: p.sample, data: obs, showLine: true, borderColor: COLORS.obs, borderWidth: 6.5, borderJoinStyle: 'round', borderCapStyle: 'round',
          segment: { borderColor: obsSegmentColor },
          pointRadius: 2.9, pointBackgroundColor: COLORS.obs, pointBorderWidth: 0, backgroundColor: COLORS.obs, tension: 0,
        },
        { label: 'Diff', data: diff, showLine: true, borderColor: COLORS.diff, borderWidth: 3.4, borderJoinStyle: 'round', pointRadius: 0, tension: 0 },
        { label: 'Anatase', data: ana, showLine: false, pointStyle: 'line', rotation: 90, pointRadius: p.anataseR, borderColor: COLORS.anatase, pointBorderColor: COLORS.anatase, pointBorderWidth: 1.2 },
        { label: 'Rutile', data: rut, showLine: false, pointStyle: 'line', rotation: 90, pointRadius: p.rutileR, borderColor: COLORS.rutile, pointBorderColor: COLORS.rutile, pointBorderWidth: 1.2 },
      ],
    },
    options: {
      responsive: false,
      animation: false,
      devicePixelRatio: 1,
      events: [],
      layout: { padding: { left: 0, right: p.padR, top: 16, bottom: 0 } },
      plugins: { legend: { display: false }, tooltip: { enabled: false }, title: { display: false } },
      scales: {
        x: {
          type: 'linear',
          min: 18,
          max: 110,
          grid: { display: false, drawTicks: false },
          border: { display: false },
          afterBuildTicks: (s: any) => { s.ticks = xMajorTicks.map((v) => ({ value: v })); },
          ticks: { padding: 13, color: '#111', font: tickFont, maxRotation: 0, autoSkip: false },
          title: { display: true, text: '2θ (deg)', color: '#000', font: { size: 23, weight: 'bold', family: FONT }, padding: { top: 0, bottom: -1 } },
          afterFit: (s: any) => { s.height = 79; s.paddingLeft = 0; s.paddingRight = 0; },
        },
        y: {
          type: 'linear',
          min: -5,
          max: p.yMax,
          grid: { display: false, drawTicks: false },
          border: { display: false },
          afterBuildTicks: (s: any) => { s.ticks = yMajorTicks.map((v) => ({ value: v })); },
          ticks: { padding: 13, color: '#111', font: tickFont, autoSkip: false },
          title: { display: true, text: 'Sqrt (I) (a.u.)', color: '#000', font: { size: 24, weight: 'bold', family: FONT }, padding: { top: p.yTitlePad, bottom: 0 } },
          afterFit: (s: any) => { s.width = p.axisW; s.paddingTop = 0; s.paddingBottom = 0; },
        },
      },
    },
    plugins: [decorPlugin(p)],
  };
}

function PanelChart({ panel, left, width }: { panel: Panel; left: number; width: number }) {
  const ref = useRef<HTMLCanvasElement>(null);
  useEffect(() => {
    if (!ref.current) return;
    const chart = new Chart(ref.current, buildConfig(panel));
    return () => chart.destroy();
  }, [panel]);
  return (
    <canvas
      ref={ref}
      width={width}
      height={507}
      style={{ position: 'absolute', left, top: 0, width, height: 507, display: 'block' }}
    />
  );
}

export default function App() {
  return (
    <div style={{ position: 'fixed', left: 0, top: 0, width: 1252, height: 507, overflow: 'hidden', background: '#fff' }}>
      <PanelChart panel={panelA} left={0} width={640} />
      <PanelChart panel={panelB} left={640} width={625} />
    </div>
  );
}
